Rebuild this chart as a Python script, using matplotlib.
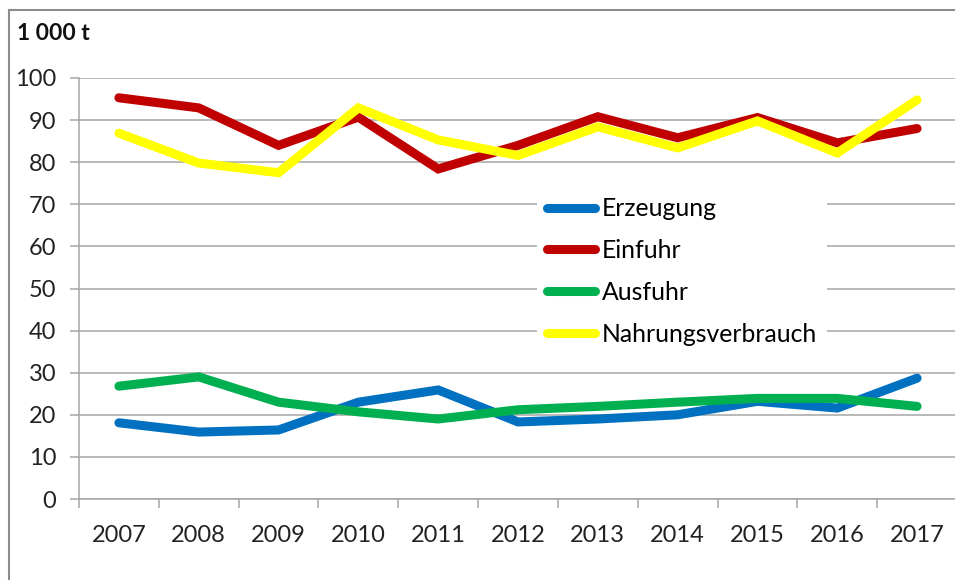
"""
Erzeugung, Ein- und Ausfuhr sowie Nahrungsverbrauch 2007-2017 (1 000 t).
"""

import matplotlib.pyplot as plt
from matplotlib.patches import Rectangle

years = ['2007', '2008', '2009', '2010', '2011', '2012',
         '2013', '2014', '2015', '2016', '2017']
erzeugung = [18.1, 15.9, 16.4, 23.0, 25.9, 18.3, 19.0, 20.0, 23.2, 21.6, 28.7]
einfuhr = [95.3, 92.9, 84.0, 90.7, 78.4, 84.0, 90.8, 85.8, 90.6, 84.6, 88.0]
ausfuhr = [26.8, 29.0, 23.0, 20.7, 19.0, 21.2, 22.0, 23.0, 23.9, 23.9, 22.0]
nahrung = [86.9, 79.8, 77.5, 92.9, 85.3, 81.6, 88.4, 83.4, 89.8, 82.2, 94.8]

series = (
    ('Erzeugung', erzeugung, '#0070C0'),
    ('Einfuhr', einfuhr, '#C00000'),
    ('Ausfuhr', ausfuhr, '#00B050'),
    ('Nahrungsverbrauch', nahrung, '#FFFF00'),
)

plt.rcParams['font.family'] = ['Lato', 'DejaVu Sans']
W, H = 955, 580
fig = plt.figure(figsize=(W / 100, H / 100), dpi=100)
ax = fig.add_axes([79 / W, (H - 499) / H, 878 / W, 421 / H])

x = list(range(len(years)))
for name, values, color in series:
    ax.plot(x, values, color=color, lw=6.5, label=name,
            solid_capstyle='round', solid_joinstyle='miter')

ax.set_xlim(-0.5, len(years) - 0.5)
ax.set_ylim(0, 100)
ax.set_yticks(range(0, 101, 10))
ax.yaxis.grid(True, color='#A6A6A6', lw=1.1)
ax.set_axisbelow(True)

# tick marks on category boundaries, labels at category centres
ax.set_xticks([i - 0.5 for i in range(len(years) + 1)])
ax.set_xticklabels([])
ax.set_xticks(x, minor=True)
ax.set_xticklabels(years, minor=True)
ax.tick_params(axis='x', which='major', length=6.5, width=1.1, color='#A6A6A6')
ax.tick_params(axis='x', which='minor', length=0, pad=19, labelsize=17,
               labelcolor='#222222')
ax.tick_params(axis='y', length=6.5, width=1.1, color='#A6A6A6', pad=10,
               labelsize=17, labelcolor='#222222')

for side in ('top', 'right'):
    ax.spines[side].set_visible(False)
for side in ('left', 'bottom'):
    ax.spines[side].set_color('#A6A6A6')
    ax.spines[side].set_linewidth(1.1)

leg = ax.legend(loc='upper left', bbox_to_anchor=(525 / W, 1 - 175 / H),
                bbox_transform=fig.transFigure, frameon=True, fancybox=False,
                edgecolor='none', facecolor='white', framealpha=1,
                fontsize=17.8, handlelength=1.95, handletextpad=0.25,
                labelspacing=0.76, borderpad=0.4)
for line in leg.get_lines():
    line.set_linewidth(6.5)

fig.text(17 / W, 1 - 33 / H, '1 000 t', fontsize=16.5, fontweight='bold',
         va='center', ha='left', color='#111111')

# outer chart border
fig.patches.append(Rectangle((9 / W, -0.05), 1.1, 1.05 - 10 / H,
                             transform=fig.transFigure, fill=False,
                             edgecolor='#8C8C8C', lw=1.5))

fig.savefig('out.png', dpi=100)
